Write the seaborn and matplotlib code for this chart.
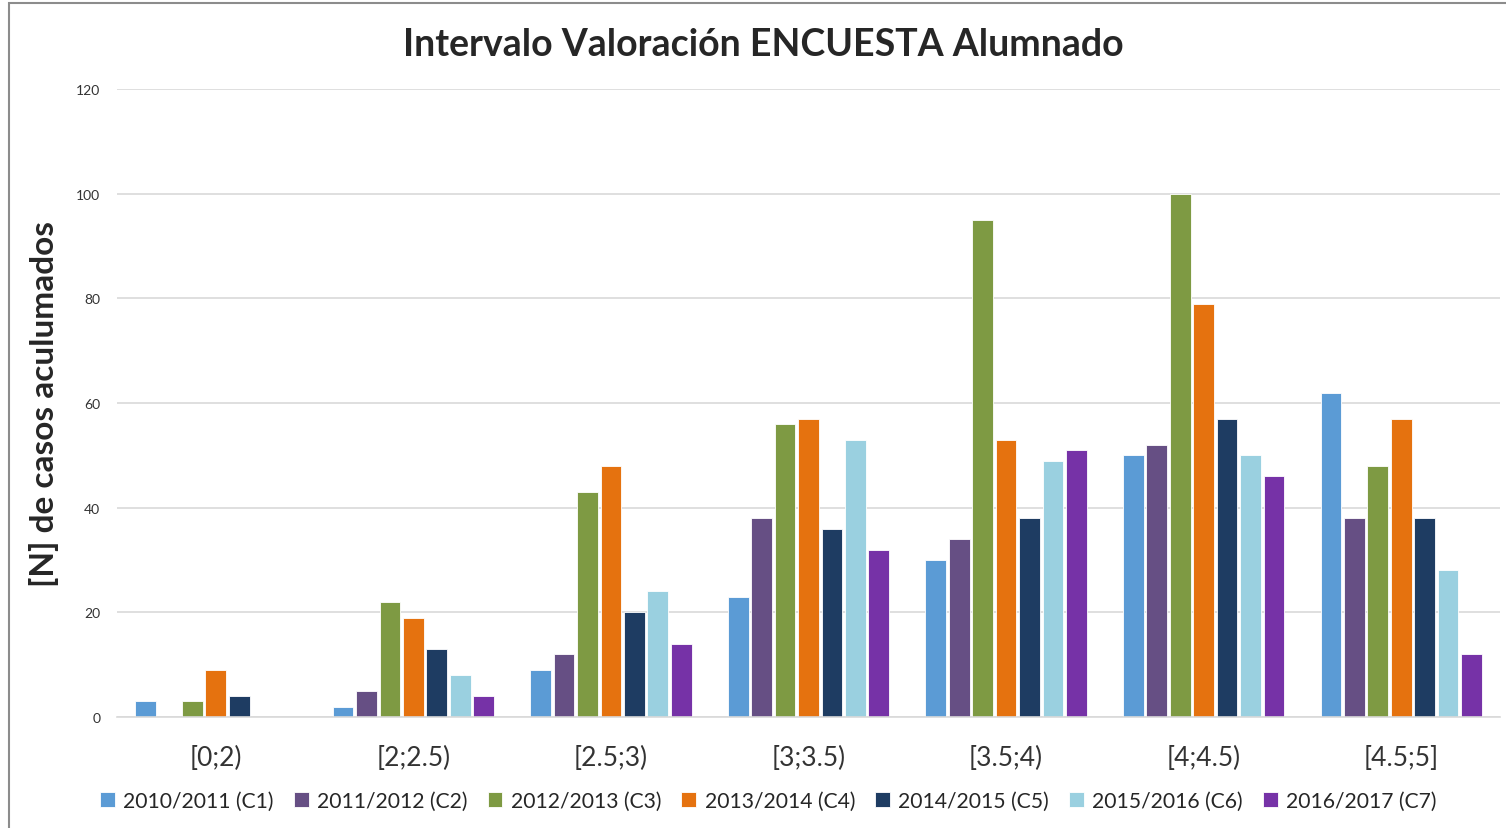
import numpy as np
import pandas as pd
import matplotlib
matplotlib.use("Agg")
import matplotlib.pyplot as plt
import seaborn as sns
from matplotlib.patches import Rectangle

# intervalos y cursos
intervalos = ["[0;2)", "[2;2.5)", "[2.5;3)", "[3;3.5)", "[3.5;4)", "[4;4.5)", "[4.5;5]"]
cursos = ["2010/2011 (C1)", "2011/2012 (C2)", "2012/2013 (C3)", "2013/2014 (C4)",
          "2014/2015 (C5)", "2015/2016 (C6)", "2016/2017 (C7)"]

c1 = [3, 2, 9, 23, 30, 50, 62]
c2 = [0, 5, 12, 38, 34, 52, 38]
c3 = [3, 22, 43, 56, 95, 100, 48]
c4 = [9, 19, 48, 57, 53, 79, 57]
c5 = [4, 13, 20, 36, 38, 57, 38]
c6 = [0, 8, 24, 53, 49, 50, 28]
c7 = [0, 4, 14, 32, 51, 46, 12]

colores = ["#5B9BD5", "#664F84", "#7E9A43", "#E5720F", "#1E3C62", "#9AD0E0", "#7632A7"]

series = [c1, c2, c3, c4, c5, c6, c7]
filas = []
for curso, vals in zip(cursos, series):
    for intervalo, v in zip(intervalos, vals):
        filas.append({"Intervalo": intervalo, "Curso": curso, "N": v})
df = pd.DataFrame(filas)

sns.set_style("white")
plt.rcParams['font.family'] = ['Lato', 'DejaVu Sans']

fig = plt.figure(figsize=(15.06, 8.29), dpi=100)
ax = fig.add_axes([0.0777, 0.1339, 0.9183, 0.7575])

sns.barplot(data=df, x="Intervalo", y="N", hue="Curso", order=intervalos,
            hue_order=cursos, palette=colores, saturation=1, width=0.83, gap=0.12,
            edgecolor="white", linewidth=0.6, ax=ax, errorbar=None)

ax.set_ylim(0, 120)
ax.set_yticks(range(0, 121, 20))
ax.yaxis.grid(True, color="#D9D9D9", linewidth=1.2)
ax.set_axisbelow(True)
for s in ["top", "right", "left"]:
    ax.spines[s].set_visible(False)
ax.spines["bottom"].set_color("#D9D9D9")
ax.spines["bottom"].set_linewidth(1.2)
ax.tick_params(axis="y", length=0, pad=12, labelsize=10, labelcolor="#333333")
ax.tick_params(axis="x", length=0, pad=20, labelsize=19, labelcolor="#333333")
ax.set_xlabel("")
ax.set_ylabel("[N] de casos aculumados", fontsize=24, fontweight="bold", labelpad=12)

fig.text(0.507, 0.946, "Intervalo Valoración ENCUESTA Alumnado", fontsize=27,
         fontweight="bold", ha="center", va="center")

sns.move_legend(ax, "center", bbox_to_anchor=(0.471, -0.134), ncol=7, frameon=False,
                title=None, fontsize=15.2, handlelength=0.7, handleheight=0.7,
                handletextpad=0.4, columnspacing=0.95, labelcolor="#262626")

# marco gris del gráfico
fig.patches.append(Rectangle((9 / 1506, -0.1), 1.2, (829 - 4) / 829 + 0.1,
                             transform=fig.transFigure, fill=False,
                             edgecolor="#8C8C8C", linewidth=1.5))

fig.savefig("out.png", dpi=100)
